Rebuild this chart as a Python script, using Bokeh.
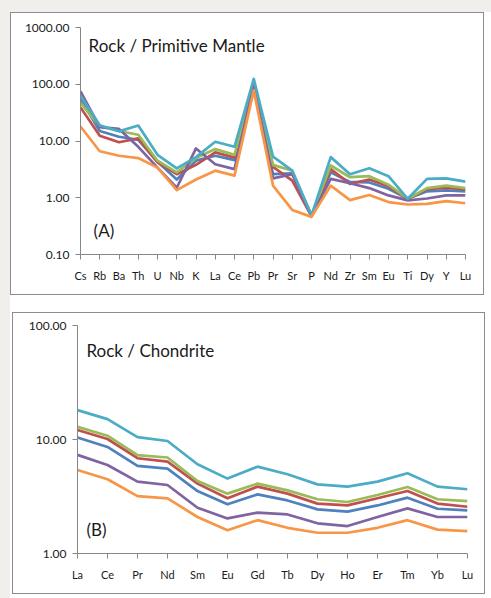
from bokeh.plotting import figure
from bokeh.layouts import column, row
from bokeh.models import FixedTicker, CustomJSTickFormatter, Label, Range1d, Spacer
from bokeh.embed import file_html
from bokeh.resources import INLINE

# ---------------- data ----------------
pm_cats = ["Cs", "Rb", "Ba", "Th", "U", "Nb", "K", "La", "Ce", "Pb", "Pr",
           "Sr", "P", "Nd", "Zr", "Sm", "Eu", "Ti", "Dy", "Y", "Lu"]
pm_blue = [55, 15, 11.9, 10.5, 4.3, 2.1, 4.5, 5.5, 4.6, 108, 2.6, 2.7, 0.49, 2.8, 1.9, 1.86, 1.44, 0.96, 1.3, 1.35, 1.3]
pm_red = [39, 12.4, 9.5, 11.1, 4.2, 2.6, 3.8, 6.3, 5.1, 95, 3.5, 2.0, 0.47, 3.2, 1.76, 2.1, 1.6, 0.95, 1.42, 1.5, 1.4]
pm_green = [47, 18, 15, 12.9, 4.5, 2.8, 5.0, 7.2, 5.7, 100, 3.8, 3.0, 0.48, 3.7, 2.3, 2.4, 1.7, 0.96, 1.48, 1.64, 1.48]
pm_purple = [75, 17.5, 16.3, 7.9, 3.4, 1.5, 7.4, 3.9, 3.2, 98, 2.2, 2.6, 0.48, 2.15, 1.8, 1.48, 1.1, 0.9, 0.97, 1.1, 1.1]
pm_teal = [63, 19, 14.8, 18.7, 5.7, 3.3, 5.2, 9.7, 7.9, 124, 5.3, 3.0, 0.49, 5.2, 2.6, 3.3, 2.4, 0.96, 2.15, 2.2, 1.93]
pm_orange = [18, 6.6, 5.5, 5.0, 3.4, 1.36, 2.1, 3.0, 2.45, 78, 1.64, 0.61, 0.46, 1.64, 0.91, 1.12, 0.84, 0.76, 0.78, 0.87, 0.8]
pm_ticks = [0.1, 1, 10, 100, 1000]

ch_cats = ["La", "Ce", "Pr", "Nd", "Sm", "Eu", "Gd", "Tb", "Dy", "Ho", "Er", "Tm", "Yb", "Lu"]
ch_blue = [10.4, 8.6, 5.86, 5.55, 3.53, 2.7, 3.3, 2.92, 2.44, 2.33, 2.64, 3.09, 2.47, 2.39]
ch_red = [12.1, 10.1, 6.85, 6.4, 4.1, 3.05, 3.86, 3.35, 2.74, 2.64, 3.05, 3.53, 2.74, 2.57]
ch_green = [12.9, 10.8, 7.3, 6.95, 4.33, 3.35, 4.1, 3.58, 2.99, 2.83, 3.26, 3.83, 2.99, 2.88]
ch_purple = [7.33, 5.98, 4.27, 3.99, 2.52, 2.03, 2.28, 2.2, 1.84, 1.74, 2.09, 2.49, 2.09, 2.09]
ch_teal = [18.1, 15.1, 10.5, 9.7, 6.07, 4.54, 5.78, 4.95, 4.04, 3.86, 4.27, 5.06, 3.86, 3.66]
ch_orange = [5.4, 4.48, 3.19, 3.05, 2.09, 1.6, 1.96, 1.68, 1.52, 1.52, 1.68, 1.96, 1.62, 1.57]
ch_ticks = [1, 10, 100]

COLORS = ["#4f81bd", "#c0504d", "#9bbb59", "#8064a2", "#4bacc6", "#f79646"]
FONT = "Lato"
AXIS_COLOR = "#868686"
TEXT_COLOR = "#1a1a1a"
PAGE_GRAY = "#f0efeb"


def make_panel(cats, series, yticks, y0, y1, title, tag, w, h, borders,
               title_pos, tag_pos):
    xs = list(range(len(cats)))
    p = figure(width=w, height=h, y_axis_type="log",
               x_range=Range1d(xs[0], xs[-1]), y_range=Range1d(y0, y1),
               output_backend="svg", toolbar_location=None,
               min_border_left=borders[0], min_border_right=borders[1],
               min_border_top=borders[2], min_border_bottom=borders[3])
    p.styles = {"border": "1px solid #8c8c8c"}
    p.outline_line_color = None
    p.background_fill_color = "white"
    p.border_fill_color = "white"
    p.xgrid.visible = False
    p.ygrid.visible = False

    for ys, c in zip(series, COLORS):
        p.line(xs, ys, line_color=c, line_width=2.7, line_join="round")

    p.xaxis.ticker = FixedTicker(ticks=xs)
    p.xaxis.major_label_overrides = {i: c for i, c in zip(xs, cats)}
    p.yaxis.ticker = FixedTicker(ticks=yticks, minor_ticks=[])
    p.yaxis.formatter = CustomJSTickFormatter(code="return tick.toFixed(2);")
    for ax in (p.xaxis[0], p.yaxis[0]):
        ax.axis_line_color = AXIS_COLOR
        ax.major_tick_line_color = AXIS_COLOR
        ax.minor_tick_line_color = None
        ax.major_tick_in = 0
        ax.major_tick_out = 5
        ax.major_label_text_font = FONT
        ax.major_label_text_color = TEXT_COLOR
    p.xaxis.major_label_text_font_size = "11px"
    p.yaxis.major_label_text_font_size = "12px"
    p.xaxis.major_label_standoff = 9
    p.yaxis.major_label_standoff = 6

    p.add_layout(Label(x=title_pos[0], y=title_pos[1], text=title,
                       text_font=FONT, text_font_size="17px",
                       text_color=TEXT_COLOR, text_baseline="middle"))
    p.add_layout(Label(x=tag_pos[0], y=tag_pos[1], text=tag,
                       text_font=FONT, text_font_size="17px",
                       text_color=TEXT_COLOR, text_baseline="middle"))
    return p


p1 = make_panel(pm_cats,
                [pm_blue, pm_red, pm_green, pm_purple, pm_teal, pm_orange],
                pm_ticks, 0.1, 1000, "Rock / Primitive Mantle", "(A)",
                474, 283, (69, 20, 14, 42), (0.42, 480), (0.68, 0.27))
p2 = make_panel(ch_cats,
                [ch_blue, ch_red, ch_green, ch_purple, ch_teal, ch_orange],
                ch_ticks, 1, 100, "Rock / Chondrite", "(B)",
                473, 282, (64, 19, 12, 42), (0.3, 60), (0.3, 1.62))


def gray(w, h):
    return Spacer(width=w, height=h, styles={"background-color": PAGE_GRAY})


def white(w, h):
    return Spacer(width=w, height=h, styles={"background-color": "white"})


layout = column(gray(491, 12),
                row(gray(10, 285), p1, white(5, 285)),
                row(gray(10, 15), white(481, 15)),
                row(gray(10, 286), white(2, 286), p2, white(4, 286)),
                styles={"background-color": "white"})
open("out.html", "w").write(file_html(layout, INLINE))
